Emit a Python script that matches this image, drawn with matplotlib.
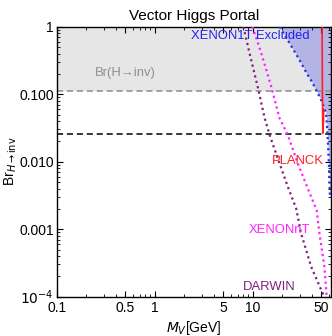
"""Vector Higgs portal: Br(H->inv) limits vs vector DM mass."""

import matplotlib

matplotlib.use("Agg")

import matplotlib.pyplot as plt
from matplotlib.ticker import FixedLocator, NullFormatter

plt.rcParams["font.family"] = ["Liberation Sans", "DejaVu Sans"]

# curves: mass in GeV, branching ratio
darwin_m = [8.0, 9.25, 11.2, 13.2, 14.8, 18.7, 22.7, 27.6, 31.0, 39.3, 49.7, 53.6]
darwin_br = [1.0, 0.404, 0.129, 0.044, 0.0249, 0.00946, 0.00426, 0.00204, 8.7e-4, 2.78e-4, 1.26e-4, 1.0e-4]

xenonnt_m = [9.9, 12.2, 15.4, 18.7, 22.7, 28.7, 36.2, 44.7, 47.7, 53.6, 56.6]
xenonnt_br = [1.0, 0.404, 0.129, 0.044, 0.0249, 0.00946, 0.00404, 0.00192, 8.7e-4, 2.78e-4, 1.0e-4]

xenon1t_m = [18.7, 24.0, 29.9, 35.0, 40.8, 45.0, 49.6, 53.0, 55.8, 57.5, 59.5, 61.0]
xenon1t_br = [1.0, 0.55, 0.321, 0.21, 0.145, 0.11, 0.082, 0.064, 0.052, 0.027, 0.01, 0.003]

planck_m = [50.8, 51.2, 51.6, 52.5, 52.7]
planck_br = [1.0, 0.1, 0.0265, 0.04, 0.06]

br_inv_now = 0.11
br_inv_future = 0.0255

x_major = [0.1, 0.5, 1, 5, 10, 50]
x_major_labels = ["0.1", "0.5", "1", "5", "10", "50"]
y_major = [1e-4, 1e-3, 1e-2, 1e-1, 1]
y_major_labels = ["$10^{-4}$", "0.001", "0.010", "0.100", "1"]

x_min, x_max = 0.1, 62.5
y_min, y_max = 1e-4, 1.0

fig = plt.figure(figsize=(3.32, 3.36), dpi=100)
ax = fig.add_axes([0.1708, 0.117, 0.826, 0.8035])
ax.set_xscale("log")
ax.set_yscale("log")
ax.set_xlim(x_min, x_max)
ax.set_ylim(y_min, y_max)

# shaded regions
ax.fill_between([x_min, x_max], [br_inv_now, br_inv_now], [y_max, y_max],
                color="#e6e6e6", lw=0, zorder=0)
ax.fill_between(xenon1t_m + [x_max], xenon1t_br + [xenon1t_br[-1]], y_max,
                color="#b4b4e4", lw=0, zorder=1)

ax.axhline(br_inv_now, color="#8c8c8c", ls=(0, (4, 2.5)), lw=1.1, zorder=2)
ax.axhline(br_inv_future, color="black", ls=(0, (4, 2.5)), lw=1.1, zorder=2)

ax.plot(darwin_m, darwin_br, color="#80207f", ls=(0, (1, 1.5)), lw=1.6, zorder=3)
ax.plot(xenonnt_m, xenonnt_br, color="#ff22ff", ls=(0, (1, 1.5)), lw=1.6, zorder=3)
ax.plot(xenon1t_m, xenon1t_br, color="#2233ee", ls=(0, (1, 1.5)), lw=1.6, zorder=3)
ax.plot(planck_m, planck_br, color="#ff2020", lw=1.2, zorder=4)

label_size = 9.4
ax.text(37.7, 0.73, "XENON1T Excluded", color="#2222ee", fontsize=label_size, ha="right", va="center")
ax.text(0.496, 0.206, "Br(H\u2192inv)", color="#909090", fontsize=label_size, ha="center", va="center")
ax.text(28.5, 0.0102, "PLANCK", color="#ff2020", fontsize=label_size, ha="center", va="center")
ax.text(18.6, 0.00098, "XENONnT", color="#ff22ff", fontsize=label_size, ha="center", va="center")
ax.text(14.6, 0.00014, "DARWIN", color="#80207f", fontsize=label_size, ha="center", va="center")

ax.xaxis.set_major_locator(FixedLocator(x_major))
ax.set_xticklabels(x_major_labels)
ax.yaxis.set_major_locator(FixedLocator(y_major))
ax.set_yticklabels(y_major_labels)
ax.xaxis.set_minor_formatter(NullFormatter())
ax.yaxis.set_minor_formatter(NullFormatter())
ax.tick_params(which="both", direction="in", top=True, right=True, labelsize=10, pad=2)
ax.tick_params(axis="x", pad=3)
ax.tick_params(which="major", length=4, width=0.8)
ax.tick_params(which="minor", length=2, width=0.6)
for spine in ax.spines.values():
    spine.set_linewidth(1.0)

ax.set_title("Vector Higgs Portal", fontsize=11, pad=5)
ax.set_xlabel("$M_V$[GeV]", fontsize=10, labelpad=3)
ax.set_ylabel("Br$_{H\\rightarrow\\mathrm{inv}}$", fontsize=10, labelpad=0)

fig.savefig("out.png", dpi=100)
